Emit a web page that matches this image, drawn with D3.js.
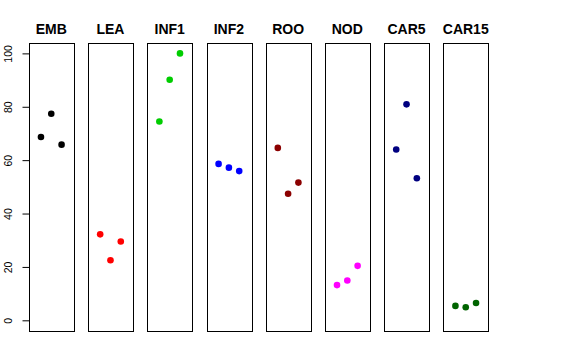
<!DOCTYPE html>
<html>
<head>
<meta charset="utf-8">
<script src="https://cdn.jsdelivr.net/npm/d3@7"></script>
<style>
html,body{margin:0;padding:0;background:#fff;}
svg{display:block;}
</style>
</head>
<body>
<svg id="chart" width="576" height="360"></svg>
<script>
const categories = ["EMB","LEA","INF1","INF2","ROO","NOD","CAR5","CAR15"];
const colors = ["#000000","#FF0000","#00CD00","#0000FF","#8B0000","#FF00FF","#000080","#006400"];
const EMB = [68.7, 77.4, 65.8];
const LEA = [32.2, 22.5, 29.5];
const INF1 = [74.5, 90.1, 100.0];
const INF2 = [58.6, 57.2, 55.9];
const ROO = [64.6, 47.4, 51.6];
const NOD = [13.2, 14.9, 20.4];
const CAR5 = [64.0, 80.9, 53.2];
const CAR15 = [5.4, 4.9, 6.5];
const yTicks = [0, 20, 40, 60, 80, 100];
const seriesValues = [EMB, LEA, INF1, INF2, ROO, NOD, CAR5, CAR15];

const svg = d3.select("#chart");
const font = "'Liberation Sans', Arial, Helvetica, sans-serif";

const y = d3.scaleLinear().domain([-4, 104]).range([331, 42.7]);
const panel = d3.scaleBand().domain(categories).range([29, 488]).paddingInner(0.248);

categories.forEach((cat, i) => {
  const x0 = panel(cat), w = panel.bandwidth();
  const x = d3.scaleLinear().domain([-0.16, 4.16]).range([x0, x0 + w]);
  const g = svg.append("g");
  g.append("rect")
    .attr("x", Math.round(x0) + 0.5).attr("y", Math.round(y(104)) + 0.5)
    .attr("width", Math.round(w)).attr("height", Math.round(y(-4)) - Math.round(y(104)))
    .attr("fill", "none").attr("stroke", "#000").attr("stroke-width", 1);
  g.append("text")
    .attr("x", x0 + w / 2).attr("y", 34)
    .attr("text-anchor", "middle")
    .attr("font-family", font).attr("font-weight", "bold").attr("font-size", "14px")
    .text(cat);
  g.selectAll("circle").data(seriesValues[i]).enter().append("circle")
    .attr("cx", (d, j) => x(j + 1))
    .attr("cy", d => y(d))
    .attr("r", 3.3)
    .attr("fill", colors[i]);
});

const axisX = Math.round(panel(categories[0])) + 0.5;
const axis = d3.axisLeft(y).tickValues(yTicks).tickSize(7).tickPadding(4).tickFormat(d3.format("d"));
const ag = svg.append("g").attr("transform", `translate(${axisX},0)`).call(axis);
ag.select(".domain").attr("d", `M-7,${y(0)}H0V${y(100)}H-7`).remove();
ag.append("line").attr("x1", 0).attr("x2", 0).attr("y1", y(0)).attr("y2", y(100)).attr("stroke", "#000");
ag.selectAll(".tick line").attr("stroke", "#000");
ag.selectAll(".tick text")
  .attr("font-family", font).attr("font-size", "10.5px").attr("fill", "#000")
  .attr("x", null).attr("dy", null)
  .attr("text-anchor", "middle")
  .attr("transform", "translate(-18,0) rotate(-90)")
  .attr("y", 0);
</script>
</body>
</html>
